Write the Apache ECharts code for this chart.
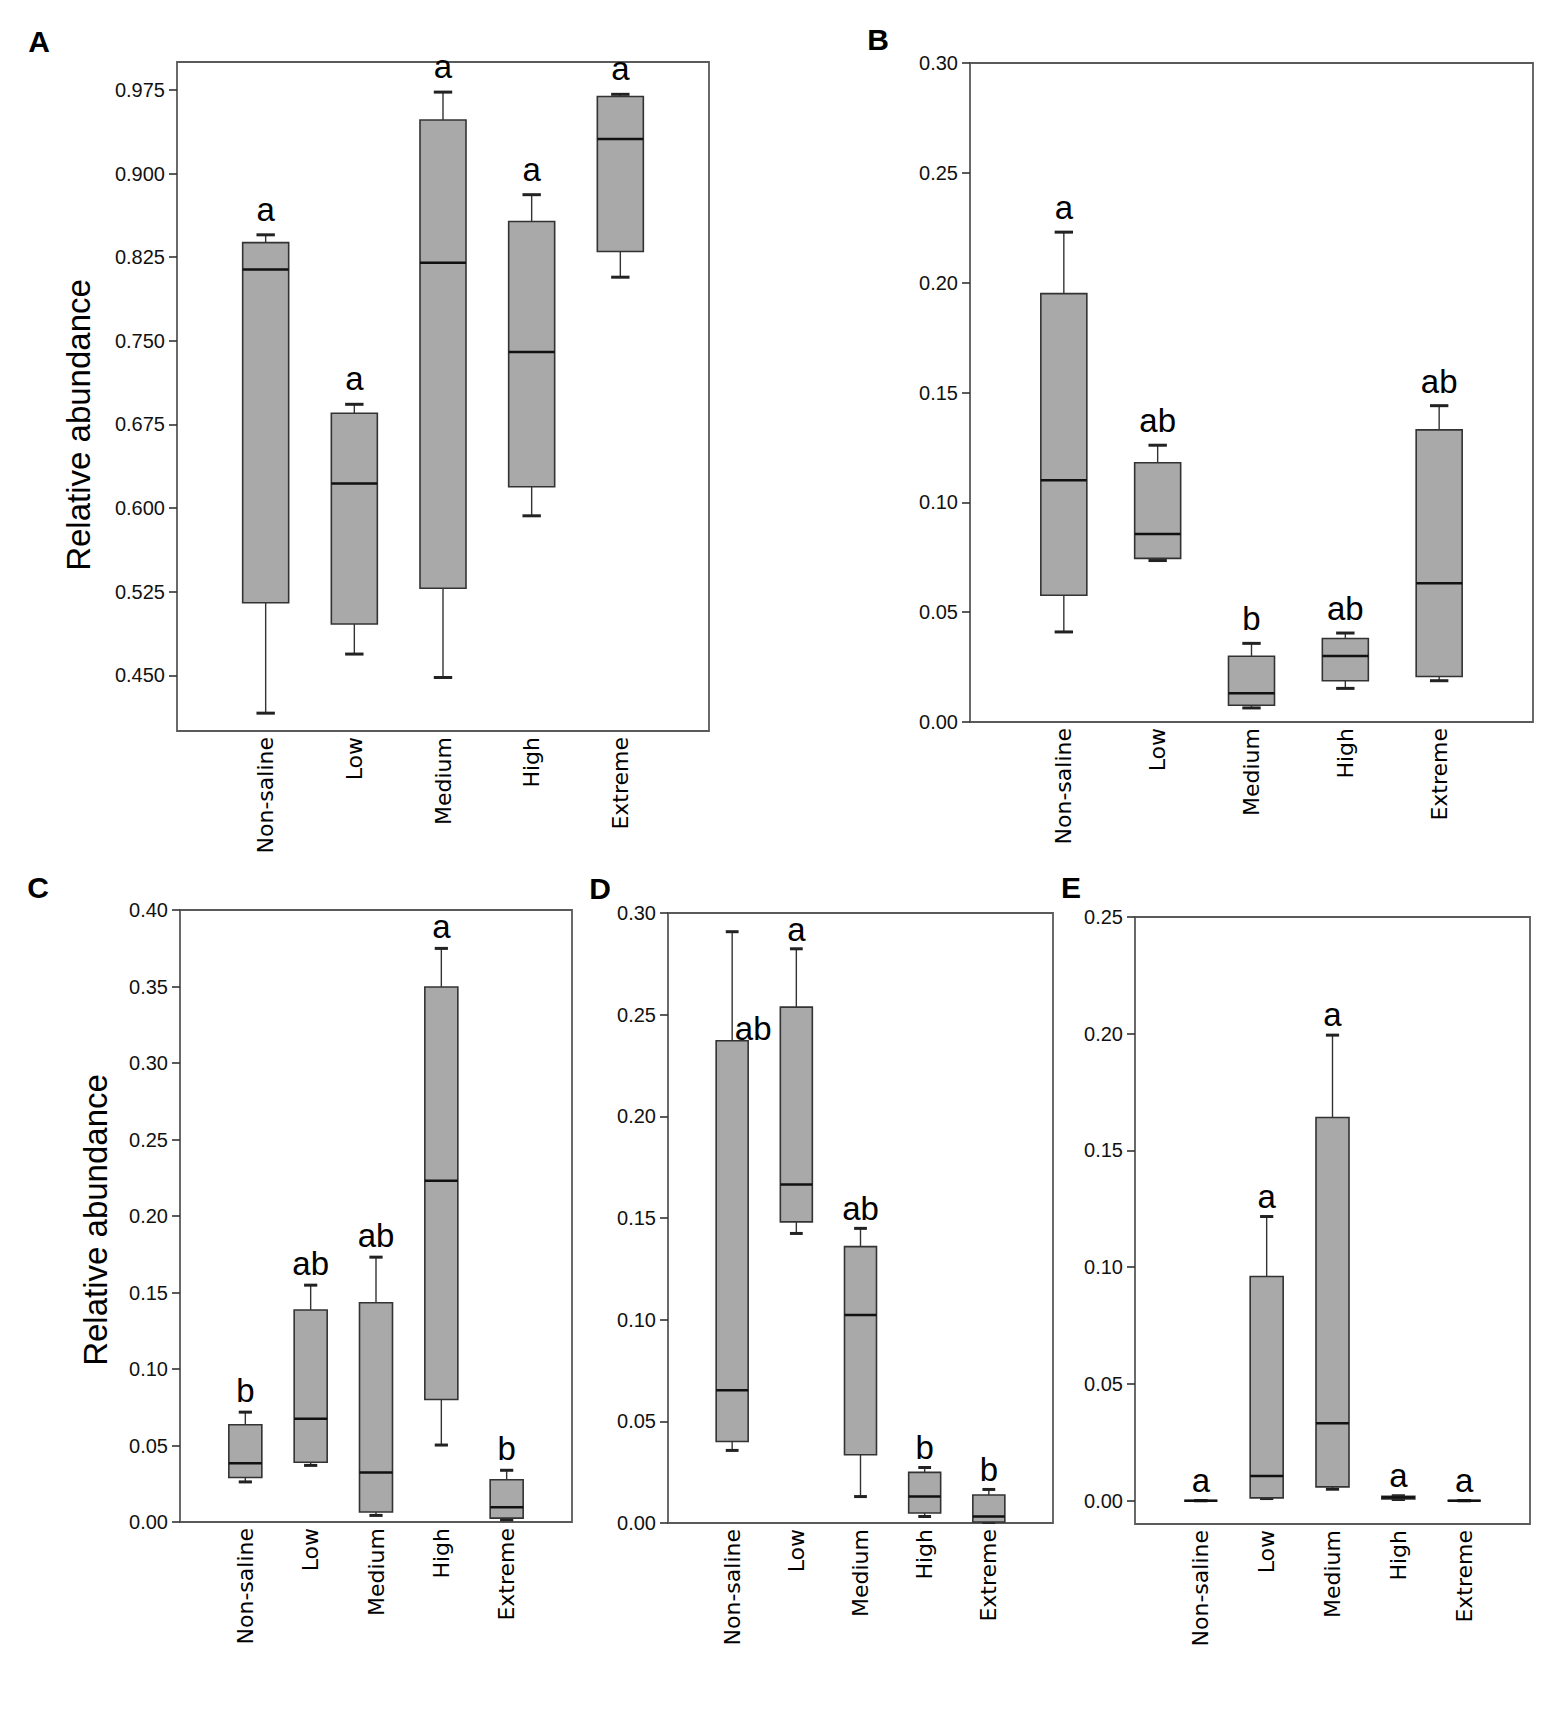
<!DOCTYPE html>
<html>
<head>
<meta charset="utf-8">
<script src="https://cdn.jsdelivr.net/npm/echarts@6/dist/echarts.min.js"></script>
<style>
html,body{margin:0;padding:0;background:#fff;overflow:hidden;width:1562px;height:1712px;}
#chart{width:1562px;height:1712px;}
</style>
</head>
<body>
<div id="chart"></div>
<script>
// ---------------- data ----------------
const categories = ['Non-saline', 'Low', 'Medium', 'High', 'Extreme'];

// each row: [min, Q1, median, Q3, max]
const boxA = [
  [0.416, 0.515, 0.814, 0.838, 0.845],
  [0.469, 0.496, 0.622, 0.685, 0.693],
  [0.448, 0.528, 0.820, 0.948, 0.973],
  [0.593, 0.619, 0.740, 0.857, 0.881],
  [0.807, 0.830, 0.931, 0.969, 0.971]
];
const boxB = [
  [0.041, 0.0577, 0.110, 0.195, 0.223],
  [0.0735, 0.0745, 0.0856, 0.118, 0.126],
  [0.0064, 0.0076, 0.0131, 0.0299, 0.0358],
  [0.0153, 0.0188, 0.0301, 0.038, 0.0405],
  [0.0188, 0.0207, 0.0632, 0.133, 0.144]
];
const boxC = [
  [0.0262, 0.0291, 0.0384, 0.0636, 0.0718],
  [0.037, 0.0391, 0.0675, 0.1386, 0.1548],
  [0.0043, 0.0065, 0.0323, 0.1433, 0.1731],
  [0.0503, 0.0801, 0.223, 0.3497, 0.3749],
  [0.0014, 0.0025, 0.0097, 0.0276, 0.0338]
];
const boxD = [
  [0.0357, 0.0401, 0.0653, 0.2372, 0.2908],
  [0.1424, 0.1481, 0.1665, 0.2537, 0.2824],
  [0.013, 0.0336, 0.1023, 0.1359, 0.1449],
  [0.0032, 0.0049, 0.013, 0.0249, 0.0273],
  [0.0003, 0.0005, 0.0032, 0.0138, 0.0165]
];
const boxE = [
  [0, 0, 0, 0, 0],
  [0.0009, 0.0012, 0.0106, 0.096, 0.1217],
  [0.0049, 0.0059, 0.0332, 0.1641, 0.1994],
  [0.0005, 0.0007, 0.0014, 0.0019, 0.0021],
  [0, 0, 0, 0, 0]
];

const lettersA = ['a', 'a', 'a', 'a', 'a'];
const lettersB = ['a', 'ab', 'b', 'ab', 'ab'];
const lettersC = ['b', 'ab', 'ab', 'a', 'b'];
const lettersD = ['ab', 'a', 'ab', 'b', 'b'];
const lettersE = ['a', 'a', 'a', 'a', 'a'];

const ticksA = [0.450, 0.525, 0.600, 0.675, 0.750, 0.825, 0.900, 0.975];
const ticksB = [0, 0.05, 0.10, 0.15, 0.20, 0.25, 0.30];
const ticksC = [0, 0.05, 0.10, 0.15, 0.20, 0.25, 0.30, 0.35, 0.40];
const ticksD = [0, 0.05, 0.10, 0.15, 0.20, 0.25, 0.30];
const ticksE = [0, 0.05, 0.10, 0.15, 0.20, 0.25];

const panelLabels = ['A', 'B', 'C', 'D', 'E'];
const yTitle = 'Relative abundance';

// ---------------- layout / style ----------------
const FONT = "'Liberation Sans', Arial, Helvetica, sans-serif";
const XFONT = "'DejaVu Sans', 'Liberation Sans', Arial, sans-serif";

const panels = [
  {box: boxA, letters: lettersA, ticks: ticksA, yMin: 0.4, yMax: 1.0, dec: 3,
   grid: {left: 177, top: 62, width: 532, height: 669}, boxW: 46, gap: 9, label: [39, 41], title: [78, 425]},
  {box: boxB, letters: lettersB, ticks: ticksB, yMin: 0, yMax: 0.30, dec: 2,
   grid: {left: 970, top: 63, width: 563, height: 659}, boxW: 46, gap: 8, label: [878, 39]},
  {box: boxC, letters: lettersC, ticks: ticksC, yMin: 0, yMax: 0.40, dec: 2,
   grid: {left: 180, top: 910, width: 392, height: 612}, boxW: 33, gap: 5, label: [38, 887], title: [95, 1220]},
  {box: boxD, letters: lettersD, ticks: ticksD, yMin: 0, yMax: 0.30, dec: 2,
   grid: {left: 668, top: 913, width: 385, height: 610}, boxW: 32, gap: 3, label: [600, 888],
   letterOverride: {0: {stat: 3, dx: 21, gap: -4}}},
  {box: boxE, letters: lettersE, ticks: ticksE, yMin: -0.01, yMax: 0.25, dec: 2,
   grid: {left: 1135, top: 917, width: 395, height: 607}, boxW: 33, gap: 4, label: [1071, 887]}
];

function makeBoxRenderer(boxW) {
  return function (params, api) {
    const x = api.value(0);
    const pts = [1, 2, 3, 4, 5].map(function (i) { return api.coord([x, api.value(i)]); });
    const cx = pts[0][0];
    const yMin = pts[0][1], yQ1 = pts[1][1], yMed = pts[2][1], yQ3 = pts[3][1], yMax = pts[4][1];
    const h = boxW / 2, c = boxW * 0.2;
    return {
      type: 'group',
      children: [
        {type: 'line', shape: {x1: cx, y1: yQ3, x2: cx, y2: yMax}, style: {stroke: '#333', lineWidth: 1.4}},
        {type: 'line', shape: {x1: cx, y1: yQ1, x2: cx, y2: yMin}, style: {stroke: '#333', lineWidth: 1.4}},
        {type: 'line', shape: {x1: cx - c, y1: yMax, x2: cx + c, y2: yMax}, style: {stroke: '#222', lineWidth: 3}},
        {type: 'line', shape: {x1: cx - c, y1: yMin, x2: cx + c, y2: yMin}, style: {stroke: '#222', lineWidth: 3}},
        {type: 'rect', shape: {x: cx - h, y: yQ3, width: boxW, height: yQ1 - yQ3},
         style: {fill: '#a9a9a9', stroke: '#333', lineWidth: 1.6}},
        {type: 'line', shape: {x1: cx - h, y1: yMed, x2: cx + h, y2: yMed}, style: {stroke: '#111', lineWidth: 2.5}}
      ]
    };
  };
}

function makeLetterRenderer(letters, override, defGap) {
  return function (params, api) {
    const p = api.coord([api.value(0), api.value(1)]);
    const o = (override && override[params.dataIndex]) || {};
    const gap = (o.gap !== undefined) ? o.gap : defGap;
    return {
      type: 'text',
      x: p[0] + (o.dx || 0),
      y: p[1] - gap,
      style: {text: letters[params.dataIndex], fontSize: 33, fontFamily: FONT, fill: '#000',
              align: 'center', verticalAlign: 'bottom'}
    };
  };
}

const grids = [], xAxes = [], yAxes = [], series = [], graphics = [];

panels.forEach(function (pn, i) {
  grids.push({
    left: pn.grid.left, top: pn.grid.top, width: pn.grid.width, height: pn.grid.height,
    show: true, borderColor: '#5a5a5a', borderWidth: 1.8, backgroundColor: 'transparent',
    containLabel: false, outerBoundsMode: 'none'
  });
  xAxes.push({
    type: 'value', gridIndex: i, min: 0, max: categories.length + 1, interval: 1,
    axisLine: {show: false}, axisTick: {show: false}, splitLine: {show: false},
    axisLabel: {
      rotate: 90, margin: 6, fontSize: 22, fontFamily: XFONT, color: '#000',
      showMinLabel: true, showMaxLabel: true,
      formatter: function (v) { return categories[v - 1] || ''; }
    }
  });
  yAxes.push({
    type: 'value', gridIndex: i, min: pn.yMin, max: pn.yMax,
    axisLine: {show: false}, splitLine: {show: false},
    axisTick: {show: true, length: 8, customValues: pn.ticks, lineStyle: {color: '#333', width: 1.6}},
    axisLabel: {
      show: true, customValues: pn.ticks, margin: 12, fontSize: 20, fontFamily: FONT, color: '#111',
      formatter: function (v) { return Number(v).toFixed(pn.dec); }
    }
  });
  series.push({
    type: 'custom', xAxisIndex: i, yAxisIndex: i,
    renderItem: makeBoxRenderer(pn.boxW),
    encode: {x: 0, y: [1, 2, 3, 4, 5]},
    data: pn.box.map(function (b, k) { return [k + 1].concat(b); }),
    z: 3
  });
  series.push({
    type: 'custom', xAxisIndex: i, yAxisIndex: i,
    renderItem: makeLetterRenderer(pn.letters, pn.letterOverride, pn.gap),
    encode: {x: 0, y: 1},
    data: pn.box.map(function (b, k) {
      const o = pn.letterOverride && pn.letterOverride[k];
      return [k + 1, o ? b[o.stat] : b[4]];
    }),
    clip: false,
    z: 4
  });
  graphics.push({
    type: 'text', x: pn.label[0], y: pn.label[1],
    style: {text: panelLabels[i], fontSize: 30, fontWeight: 'bold', fontFamily: FONT, fill: '#000',
            align: 'center', verticalAlign: 'middle'}
  });
  if (pn.title) {
    graphics.push({
      type: 'text', x: pn.title[0], y: pn.title[1], rotation: Math.PI / 2,
      style: {text: yTitle, fontSize: 33, fontFamily: FONT, fill: '#000',
              align: 'center', verticalAlign: 'middle'}
    });
  }
});

const chart = echarts.init(document.getElementById('chart'), null, {renderer: 'svg'});
chart.setOption({
  animation: false,
  backgroundColor: '#fff',
  grid: grids,
  xAxis: xAxes,
  yAxis: yAxes,
  series: series,
  graphic: graphics
});
</script>
</body>
</html>
